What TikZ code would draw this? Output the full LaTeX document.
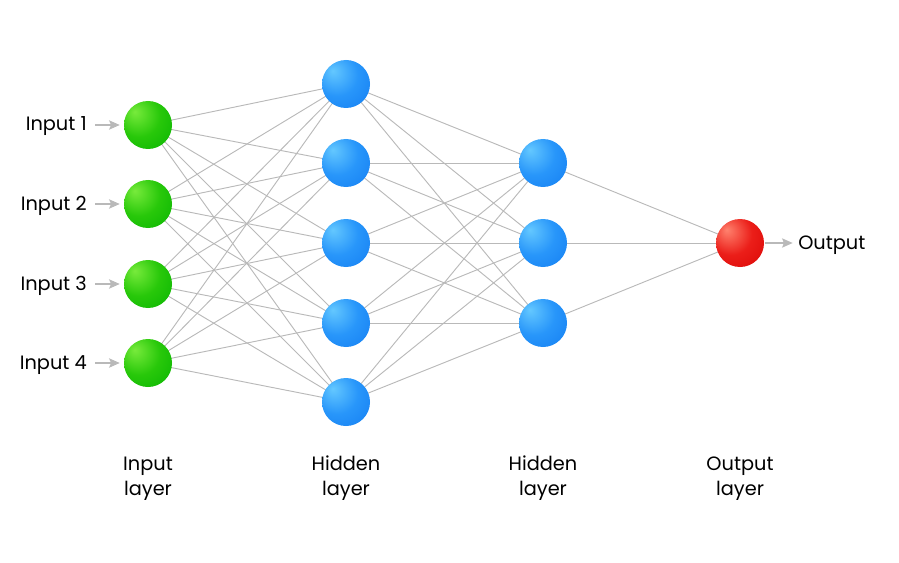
\documentclass[tikz,border=0pt]{standalone}
\usepackage{fontspec}
\setmainfont{Poppins}
\usetikzlibrary{arrows.meta,backgrounds}
\pgfdeclareradialshading{greenball}{\pgfpoint{-14bp}{14bp}}{%
  color(0bp)=(rgb,255:red,120;green,235;blue,60);
  color(22bp)=(rgb,255:red,40;green,200;blue,10);
  color(50bp)=(rgb,255:red,0;green,175;blue,0);
  color(70bp)=(rgb,255:red,0;green,160;blue,0)}
\pgfdeclareradialshading{blueball}{\pgfpoint{-14bp}{14bp}}{%
  color(0bp)=(rgb,255:red,100;green,200;blue,255);
  color(22bp)=(rgb,255:red,40;green,150;blue,250);
  color(50bp)=(rgb,255:red,15;green,120;blue,240);
  color(70bp)=(rgb,255:red,10;green,105;blue,230)}
\pgfdeclareradialshading{redball}{\pgfpoint{-14bp}{14bp}}{%
  color(0bp)=(rgb,255:red,255;green,130;blue,110);
  color(22bp)=(rgb,255:red,235;green,30;blue,25);
  color(50bp)=(rgb,255:red,215;green,0;blue,0);
  color(70bp)=(rgb,255:red,195;green,0;blue,0)}
\definecolor{edgegray}{RGB}{185,185,185}
\tikzset{
  neuron/.style={circle,minimum size=36pt,inner sep=0pt},
  inneuron/.style={neuron,shading=greenball},
  hidneuron/.style={neuron,shading=blueball},
  outneuron/.style={neuron,shading=redball},
  conn/.style={draw=edgegray,line width=0.7pt},
  ioarrow/.style={draw=edgegray,line width=0.8pt,-{Stealth[length=8pt,width=7pt,inset=1.5pt]}},
  lbl/.style={font=\fontsize{14.5}{18.75}\selectfont,text=black,inner sep=0pt},
  laylbl/.style={lbl,align=center,anchor=base}
}
\begin{document}
\begin{tikzpicture}[x=0.75pt,y=-0.75pt]
\useasboundingbox (0,0) rectangle (899,563);
% input layer
\foreach \i/\y in {1/125,2/204,3/284,4/363}{
  \node[inneuron] (i\i) at (148,\y) {};
  \node[lbl,anchor=base east] (t\i) at (87,\y+6) {Input \i};
  \coordinate (a\i) at (95,\y);
}
% hidden layer 1
\foreach \j/\y in {1/84,2/163,3/243,4/323,5/402}{
  \node[hidneuron] (h\j) at (346,\y) {};
}
% hidden layer 2
\foreach \k/\y in {1/163,2/243,3/323}{
  \node[hidneuron] (g\k) at (543,\y) {};
}
% output
\node[outneuron] (o) at (740,243) {};
\node[lbl,anchor=base west] (ot) at (798,249) {Output};
\coordinate (oa) at (765,243);
% layer labels
\node[laylbl] (l1) at (148,495) {Input\\layer};
\node[laylbl] (l2) at (346,495) {Hidden\\layer};
\node[laylbl] (l3) at (543,495) {Hidden\\layer};
\node[laylbl] (l4) at (740,495) {Output\\layer};
\begin{scope}[on background layer]
\foreach \i in {1,...,4}{\foreach \j in {1,...,5}{\draw[conn] (i\i.center) -- (h\j.center);}}
\foreach \j in {1,...,5}{\foreach \k in {1,...,3}{\draw[conn] (h\j.center) -- (g\k.center);}}
\foreach \k in {1,...,3}{\draw[conn] (g\k.center) -- (o.center);}
\end{scope}
\foreach \i in {1,...,4}{\draw[ioarrow] (a\i) -- ([xshift=-3pt]i\i.west);}
\draw[ioarrow,shorten >=4pt] (oa) -- (ot.west |- o.center);
\end{tikzpicture}
\end{document}
